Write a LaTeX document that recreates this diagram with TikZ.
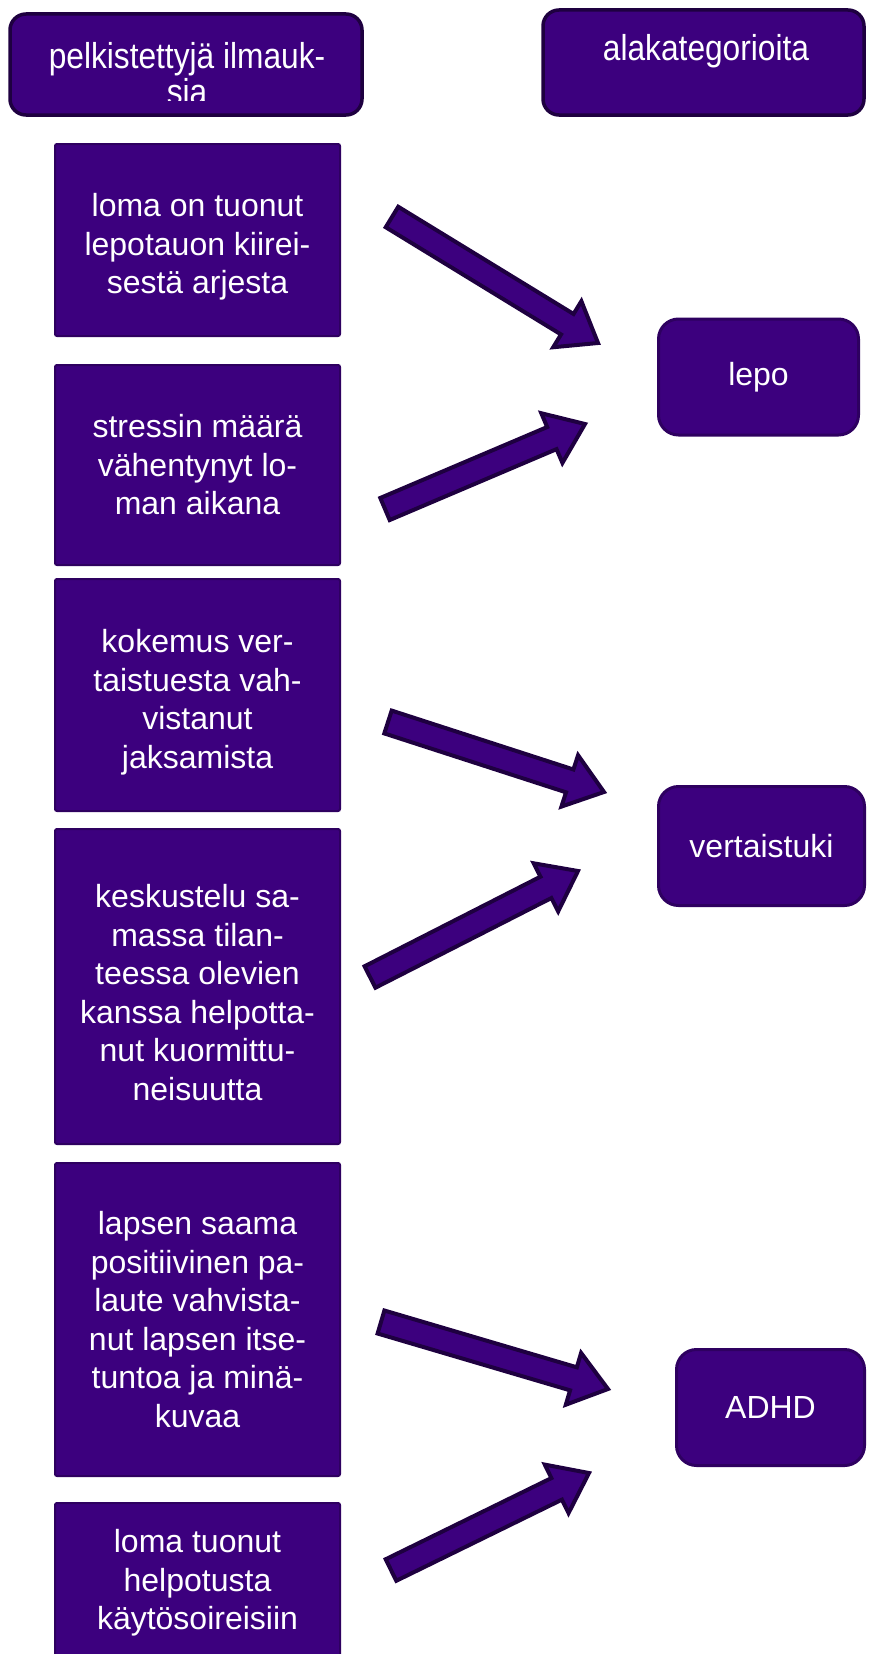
\documentclass[tikz,border=0pt]{standalone}
\usepackage{fontspec}
\setmainfont{Liberation Sans}
\newfontfamily\headfont[FakeStretch=0.88]{Liberation Sans}
\usetikzlibrary{calc}
\definecolor{boxfill}{RGB}{60,0,126}
\definecolor{boxline}{RGB}{46,0,96}
\definecolor{arrline}{RGB}{30,0,64}
\newcommand\lowr[1]{\rule{0pt}{\dimexpr 23.3pt+#1\relax}}
\tikzset{
  basebox/.style={fill=boxfill, text=white, align=center, inner sep=0pt,
    font=\fontsize{32}{38.5}\selectfont},
  itembox/.style={basebox, draw=boxline, line width=2pt, rounded corners=2pt,
    minimum width=285pt},
  catbox/.style={basebox, draw=boxline, line width=3pt, rounded corners=20pt},
  headbox/.style={basebox, draw=arrline, line width=3.5pt, rounded corners=16pt},
  headtext/.style={text=white, inner sep=0pt, align=center,
    font=\headfont\fontsize{36}{36.5}\selectfont},
  blockarrow/.style={draw=arrline, fill=boxfill, line width=4pt, line join=miter}
}
\newcommand\blockarr[2]{%
  \path let \p1=(#1), \p2=(#2), \n1={atan2(\y2-\y1,\x2-\x1)},
    \n2={veclen(\x2-\x1,\y2-\y1)} in \pgfextra{\xdef\barang{\n1}\xdef\barlen{\n2}};
  \draw[blockarrow, shift={(#1)}, rotate=\barang]
    (0pt,-12pt) -- ({\barlen-36pt},-12pt) -- ({\barlen-36pt},-27pt)
    -- ({\barlen+0pt},0pt) -- ({\barlen-36pt},27pt) -- ({\barlen-36pt},12pt)
    -- (0pt,12pt) -- cycle;
}
\begin{document}
\begin{tikzpicture}[x=1pt,y=-1pt]
\useasboundingbox (0,0) rectangle (868,1654);
\clip (0,0) rectangle (868,1654);

% headers
\node[headbox, minimum width=352pt, minimum height=101pt] (hL) at (186,64.5) {};
\begin{scope}
  \clip (10,14) rectangle (362,100);
  \node[headtext] (hLt) at (187,73.5) {pelkistettyjä ilmauk-\\sia};
\end{scope}
\node[headbox, minimum width=321pt, minimum height=105pt] (hR) at (703.5,62.5) {};
\node[headtext, anchor=base] (hRt) at (706,60) {alakategorioita};

% items
\node[itembox, minimum height=192pt] (b1) at (197.5,240) {\lowr{14pt}loma on tuonut\\lepotauon kiirei-\\sestä arjesta};
\node[itembox, minimum height=200pt] (b2) at (197.5,465) {stressin määrä\\vähentynyt lo-\\man aikana};
\node[itembox, minimum height=232pt] (b3) at (197.5,695) {\lowr{14pt}kokemus ver-\\taistuesta vah-\\vistanut\\jaksamista};
\node[itembox, minimum height=315pt] (b4) at (197.5,986.5) {\lowr{12pt}keskustelu sa-\\massa tilan-\\teessa olevien\\kanssa helpotta-\\nut kuormittu-\\neisuutta};
\node[itembox, minimum height=313pt] (b5) at (197.5,1319.5) {lapsen saama\\positiivinen pa-\\laute vahvista-\\nut lapsen itse-\\tuntoa ja minä-\\kuvaa};
\node[itembox, minimum height=160pt] (b6) at (197.5,1583) {loma tuonut\\helpotusta\\käytösoireisiin};

% categories
\node[catbox, minimum width=200pt, minimum height=116pt] (lepo) at (758.5,377) {lepo};
\node[catbox, minimum width=206pt, minimum height=119pt] (vert) at (761.5,846) {vertaistuki};
\node[catbox, minimum width=188pt, minimum height=116pt] (adhd) at (770.5,1407.5) {ADHD};

% arrow coordinates
\coordinate (t1) at (392,217);  \coordinate (h1) at (598,343);
\coordinate (t2) at (385,509);  \coordinate (h2) at (585,424);
\coordinate (t3) at (388,722);  \coordinate (h3) at (604,792);
\coordinate (t4) at (370,977);  \coordinate (h4) at (578,871);
\coordinate (t5) at (381,1322); \coordinate (h5) at (608,1389);
\coordinate (t6) at (391,1570); \coordinate (h6) at (589,1473);

\blockarr{t1}{h1}
\blockarr{t2}{h2}
\blockarr{t3}{h3}
\blockarr{t4}{h4}
\blockarr{t5}{h5}
\blockarr{t6}{h6}
\end{tikzpicture}
\end{document}
